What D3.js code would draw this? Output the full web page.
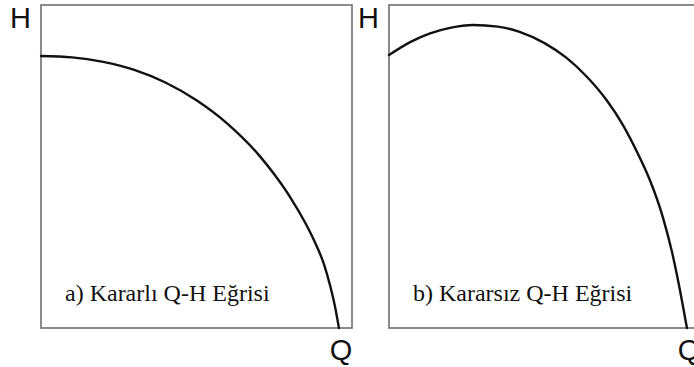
<!DOCTYPE html>
<html>
<head>
<meta charset="utf-8">
<script src="https://cdn.jsdelivr.net/npm/d3@7"></script>
<style>
  html, body { margin: 0; padding: 0; background: #fff; }
  svg { display: block; }
  .axis-name { font-family: 'Liberation Sans', Arial, sans-serif; font-size: 29px; fill: #111; }
  .caption { font-family: 'Liberation Serif', 'Times New Roman', serif; font-size: 24px; fill: #111; }
</style>
</head>
<body>
<svg id="chart" width="694" height="367"></svg>
<script>
// Stable pump characteristic (head falls steadily as flow rises)
const stableQ = [0, 10, 20, 30, 40, 50, 60, 70, 75, 80, 85, 88, 91, 93, 94.5, 95.8];
const stableH = [84.2, 83.8, 82.4, 79.9, 76.0, 70.5, 63.2, 53.6, 47.6, 40.7, 32.5, 26.7, 19.7, 13.0, 6.8, 0];

// Unstable pump characteristic (head rises to a peak, then falls)
const unstableQ = [0, 6.8, 13.2, 19.6, 27, 35, 42, 50, 57, 64, 70, 75, 80, 84, 88, 91, 93.2, 95.8];
const unstableH = [84.5, 88.5, 91.2, 92.9, 93.8, 93.3, 91.7, 88.2, 83.7, 77.4, 70.5, 63.2, 54.0, 45.5, 34.5, 23.5, 13.5, 0];

const panelTitles = ["a) Kararlı Q-H Eğrisi", "b) Kararsız Q-H Eğrisi"];
const axisNames = { x: "Q", y: "H" };

const svg = d3.select("#chart");

const panels = [
  { left: 41, top: 5, width: 311, height: 323, Q: stableQ, H: stableH, title: panelTitles[0] },
  { left: 389, top: 5, width: 311, height: 323, Q: unstableQ, H: unstableH, title: panelTitles[1] }
];

panels.forEach(p => {
  const g = svg.append("g");
  const x = d3.scaleLinear().domain([0, 100]).range([p.left, p.left + p.width]);
  const y = d3.scaleLinear().domain([0, 100]).range([p.top + p.height, p.top]);

  // frame
  g.append("rect")
    .attr("x", p.left).attr("y", p.top)
    .attr("width", p.width).attr("height", p.height)
    .attr("fill", "none")
    .attr("stroke", "#6e6e6e")
    .attr("stroke-width", 1.6);

  // curve
  const pts = p.Q.map((q, i) => [q, p.H[i]]);
  const line = d3.line()
    .x(d => x(d[0]))
    .y(d => y(d[1]))
    .curve(d3.curveMonotoneX);
  g.append("path")
    .attr("d", line(pts))
    .attr("fill", "none")
    .attr("stroke", "#111")
    .attr("stroke-width", 2.4)
    .attr("stroke-linecap", "round");

  // axis letters
  g.append("text")
    .attr("class", "axis-name")
    .attr("x", p.left - 31).attr("y", 28)
    .text(axisNames.y);
  g.append("text")
    .attr("class", "axis-name")
    .attr("x", x(p.Q[p.Q.length - 1]) + 2).attr("y", 360)
    .attr("text-anchor", "middle")
    .text(axisNames.x);

  // panel caption
  g.append("text")
    .attr("class", "caption")
    .attr("x", p.left + 24).attr("y", 301)
    .text(p.title);
});
</script>
</body>
</html>
